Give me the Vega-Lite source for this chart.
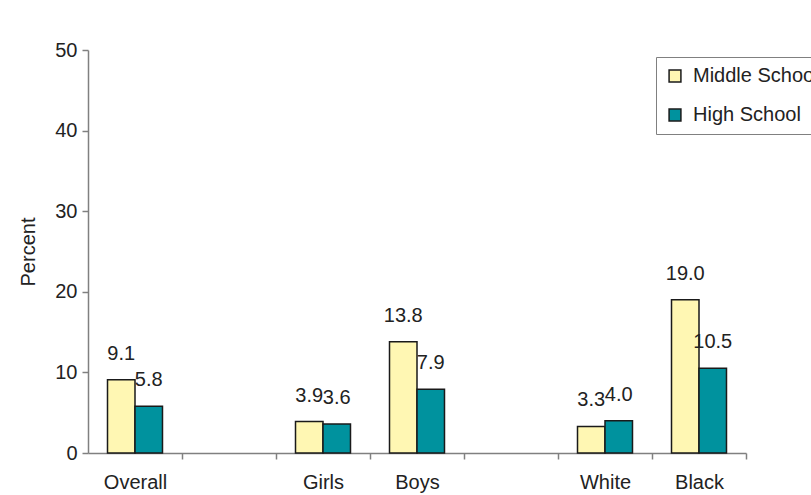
{
  "$schema": "https://vega.github.io/schema/vega-lite/v6.json",
  "width": 658,
  "height": 403,
  "autosize": {"type": "none"},
  "padding": {"left": 88, "top": 50, "right": 65, "bottom": 42},
  "background": "white",
  "config": {
    "view": {"stroke": null},
    "font": "Liberation Sans"
  },
  "data": {
    "values": [
      {"group": "Overall", "school": "Middle School", "percent": 9.1},
      {"group": "Overall", "school": "High School", "percent": 5.8},
      {"group": "Girls", "school": "Middle School", "percent": 3.9},
      {"group": "Girls", "school": "High School", "percent": 3.6},
      {"group": "Boys", "school": "Middle School", "percent": 13.8},
      {"group": "Boys", "school": "High School", "percent": 7.9},
      {"group": "White", "school": "Middle School", "percent": 3.3},
      {"group": "White", "school": "High School", "percent": 4.0},
      {"group": "Black", "school": "Middle School", "percent": 19.0},
      {"group": "Black", "school": "High School", "percent": 10.5}
    ]
  },
  "encoding": {
    "x": {
      "field": "group",
      "type": "nominal",
      "scale": {
        "domain": ["Overall", " ", "Girls", "Boys", "  ", "White", "Black"],
        "paddingInner": 0.415,
        "paddingOuter": 0.2075
      },
      "axis": {
        "title": null,
        "labelAngle": 0,
        "labelFontSize": 20,
        "labelColor": "#222222",
        "labelPadding": 13,
        "tickOffset": 47,
        "labelOffset": -47,
        "tickSize": 6,
        "tickColor": "#808080",
        "domainColor": "#808080",
        "domainWidth": 1.5,
        "tickWidth": 1.5
      }
    },
    "xOffset": {
      "field": "school",
      "type": "nominal",
      "sort": ["Middle School", "High School"]
    },
    "y": {
      "field": "percent",
      "type": "quantitative",
      "scale": {"domain": [0, 50]},
      "axis": {
        "title": "Percent",
        "titleFontSize": 20,
        "titleFontWeight": "normal",
        "titleColor": "#222222",
        "titlePadding": 16,
        "tickCount": 5,
        "grid": false,
        "labelFontSize": 20,
        "labelColor": "#222222",
        "labelPadding": 5,
        "tickSize": 6,
        "tickColor": "#808080",
        "domainColor": "#808080",
        "domainWidth": 1.5,
        "tickWidth": 1.5
      }
    }
  },
  "layer": [
    {
      "mark": {"type": "bar", "stroke": "#1a1a1a", "strokeWidth": 1.5},
      "encoding": {
        "color": {
          "field": "school",
          "type": "nominal",
          "scale": {"domain": ["Middle School", "High School"], "range": ["#FFF7B3", "#00929E"]},
          "legend": {
            "title": null,
            "orient": "none",
            "legendX": 568,
            "legendY": 7,
            "symbolType": "square",
            "symbolSize": 140,
            "symbolStrokeColor": "#1a1a1a",
            "symbolStrokeWidth": 1.5,
            "labelFontSize": 20,
            "labelColor": "#222222",
            "labelOffset": 8,
            "rowPadding": 19,
            "padding": 9,
            "strokeColor": "#808080",
            "fillColor": "white",
            "labelLimit": 300
          }
        }
      }
    },
    {
      "mark": {"type": "text", "baseline": "bottom", "dy": -16, "fontSize": 20, "color": "#222222"},
      "encoding": {
        "text": {"field": "percent", "type": "quantitative", "format": ".1f"}
      }
    }
  ]
}
